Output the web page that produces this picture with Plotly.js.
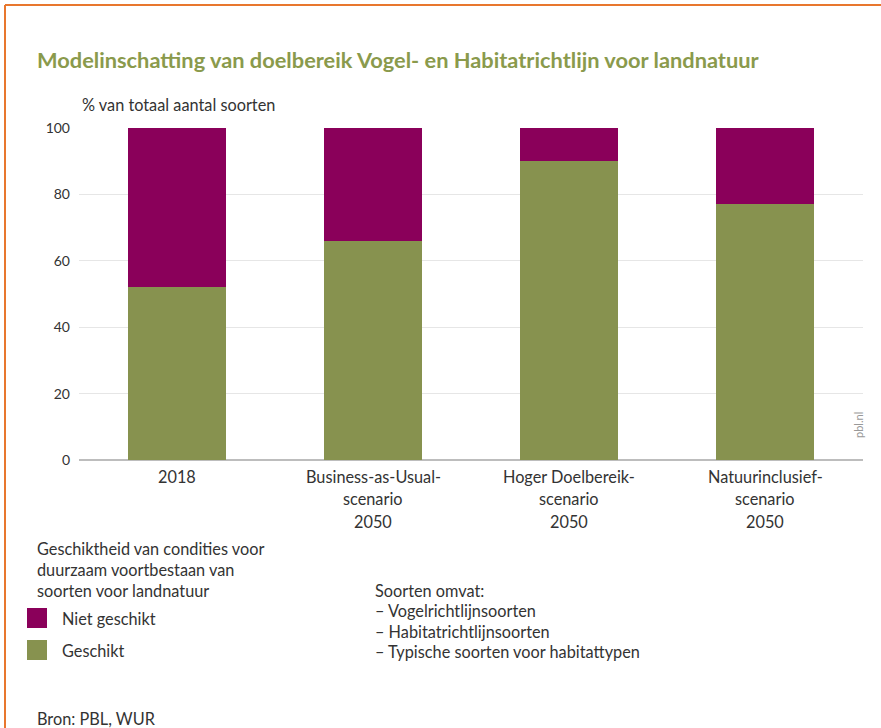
<!DOCTYPE html>
<html>
<head>
<meta charset="utf-8">
<script src="https://cdn.plot.ly/plotly-3.0.1.min.js"></script>
<style>
html,body{margin:0;padding:0;background:#fff;}
#chart{width:881px;height:728px;}
</style>
</head>
<body>
<div id="chart"></div>
<script>
const categories = ["2018", "BAU 2050", "Hoger 2050", "Natuur 2050"];
const categoryLabelLines = [
  ["2018"],
  ["Business-as-Usual-", "scenario", "2050"],
  ["Hoger Doelbereik-", "scenario", "2050"],
  ["Natuurinclusief-", "scenario", "2050"]
];
const geschikt = [52, 66, 90, 77];
const nietGeschikt = [48, 34, 10, 23];
const yTicks = [0, 20, 40, 60, 80, 100];
const seriesNames = ["Geschikt", "Niet geschikt"];
const legendTitleLines = ["Geschiktheid van condities voor", "duurzaam voortbestaan van", "soorten voor landnatuur"];
const noteLines = ["Soorten omvat:", "\u2013 Vogelrichtlijnsoorten", "\u2013 Habitatrichtlijnsoorten", "\u2013 Typische soorten voor habitattypen"];

const GREEN = "#87924f";
const PURPLE = "#8a005a";
const FONT = "Lato, 'Open Sans', sans-serif";
const TXT = "#333333";
const BODY = 16.3;

const W = 881, H = 728;
const M = {l: 79, r: 18, t: 128, b: 268};
const PH = H - M.t - M.b;
const PW = W - M.l - M.r;
function py(pixY) { return (H - M.b - pixY) / PH; }
function px(pixX) { return (pixX - M.l) / PW; }

const traces = [
  {type: "bar", x: categories, y: geschikt, name: seriesNames[0], marker: {color: GREEN}, width: 0.5, hoverinfo: "y+name"},
  {type: "bar", x: categories, y: nietGeschikt, name: seriesNames[1], marker: {color: PURPLE}, width: 0.5, hoverinfo: "y+name"}
];

const annotations = [];
const shapes = [];

// title
annotations.push({xref: "paper", yref: "paper", x: px(35), y: py(60), xanchor: "left", yanchor: "middle",
  text: "<b>Modelinschatting van doelbereik Vogel- en Habitatrichtlijn voor landnatuur</b>", showarrow: false,
  font: {family: FONT, size: 21.8, color: "#8a9a4c"}});
// y-axis title
annotations.push({xref: "paper", yref: "paper", x: px(80), y: py(104), xanchor: "left", yanchor: "middle",
  text: "% van totaal aantal soorten", showarrow: false, font: {family: FONT, size: BODY, color: TXT}});
// category labels (x given as category index)
categoryLabelLines.forEach((lines, i) => {
  lines.forEach((ln, j) => {
    annotations.push({xref: "x", yref: "paper", x: i, y: py(476 + j * 22.5), xanchor: "center", yanchor: "middle",
      text: ln, showarrow: false, font: {family: FONT, size: BODY, color: TXT}});
  });
});
// pbl.nl
annotations.push({xref: "paper", yref: "paper", x: px(858), y: py(425), xanchor: "center", yanchor: "middle",
  text: "pbl.nl", textangle: -90, showarrow: false, font: {family: FONT, size: 11, color: "#999999"}});
// legend title
legendTitleLines.forEach((ln, j) => {
  annotations.push({xref: "paper", yref: "paper", x: px(35), y: py(548 + j * 21), xanchor: "left", yanchor: "middle",
    text: ln, showarrow: false, font: {family: FONT, size: BODY, color: TXT}});
});
// legend items (Niet geschikt first)
[[seriesNames[1], PURPLE, 618], [seriesNames[0], GREEN, 650]].forEach(([name, col, cy]) => {
  shapes.push({type: "rect", xref: "paper", yref: "paper", x0: px(27), x1: px(47), y0: py(cy - 10), y1: py(cy + 10),
    fillcolor: col, line: {width: 0}});
  annotations.push({xref: "paper", yref: "paper", x: px(60), y: py(cy), xanchor: "left", yanchor: "middle",
    text: name, showarrow: false, font: {family: FONT, size: BODY, color: TXT}});
});
// notes
noteLines.forEach((ln, j) => {
  annotations.push({xref: "paper", yref: "paper", x: px(373), y: py(590 + j * 20.5), xanchor: "left", yanchor: "middle",
    text: ln, showarrow: false, font: {family: FONT, size: BODY, color: TXT}});
});
// source
annotations.push({xref: "paper", yref: "paper", x: px(35), y: py(718), xanchor: "left", yanchor: "middle",
  text: "Bron: PBL, WUR", showarrow: false, font: {family: FONT, size: BODY, color: TXT}});
// orange frame
shapes.push({type: "line", xref: "paper", yref: "paper", x0: px(5), x1: px(900), y0: py(5), y1: py(5), line: {color: "#e8772e", width: 2}});
shapes.push({type: "line", xref: "paper", yref: "paper", x0: px(5), x1: px(5), y0: py(5), y1: py(740), line: {color: "#e8772e", width: 2}});

const layout = {
  width: W, height: H,
  margin: M,
  paper_bgcolor: "#ffffff", plot_bgcolor: "#ffffff",
  barmode: "stack",
  showlegend: false,
  xaxis: {type: "category", range: [-0.5, 3.5], showticklabels: false, showgrid: false, zeroline: false, showline: false, ticks: "", fixedrange: true},
  yaxis: {range: [0, 100], tickvals: yTicks, ticktext: yTicks.map(String), showgrid: true, gridcolor: "#e6e6e6", gridwidth: 1,
    zeroline: true, zerolinecolor: "#bdbdbd", zerolinewidth: 2, showline: false, ticks: "", ticklabelstandoff: 8,
    tickfont: {family: FONT, size: 14, color: TXT}, fixedrange: true},
  font: {family: FONT, color: TXT},
  annotations: annotations,
  shapes: shapes
};

Plotly.newPlot("chart", traces, layout, {displayModeBar: false, staticPlot: true});
</script>
</body>
</html>
